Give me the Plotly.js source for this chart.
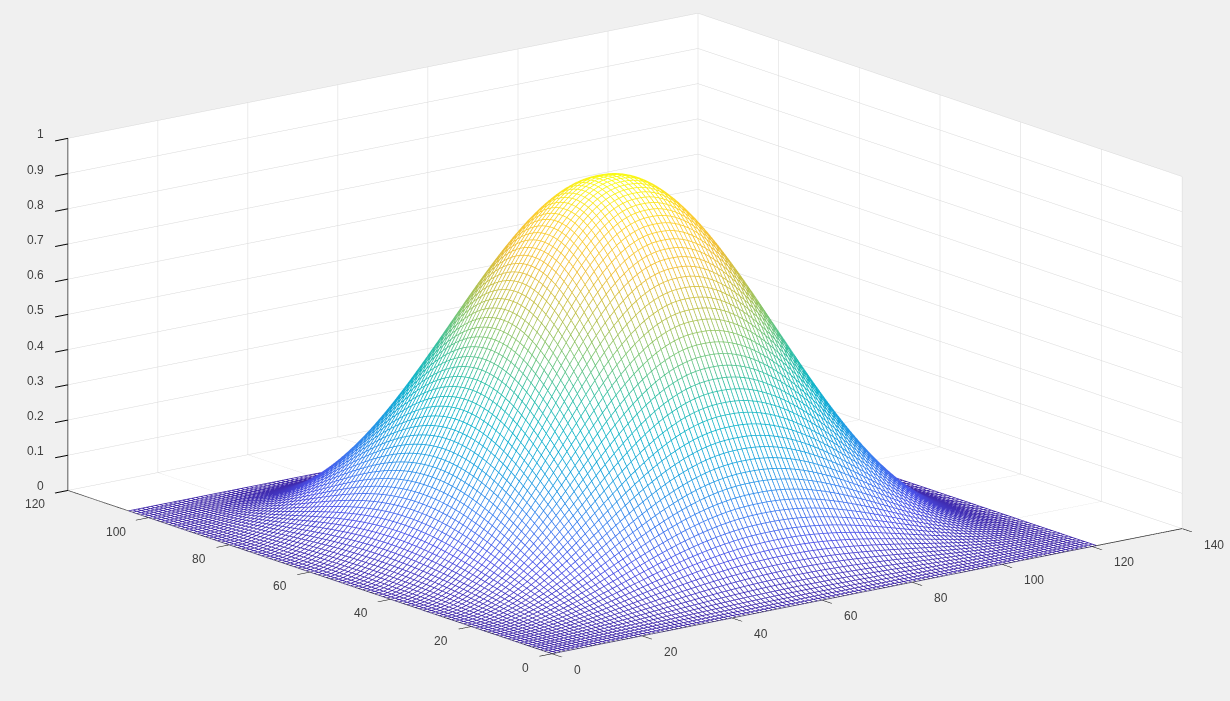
<!DOCTYPE html>
<html><head><meta charset="utf-8">
<script src="https://cdn.plot.ly/plotly-3.0.1.min.js"></script>
<style>html,body{margin:0;padding:0;background:#f0f0f0}#c{width:1230px;height:701px}</style></head>
<body><div id="c"></div><script>
// Bell profile along x, from the edge to the crest (mirrored for the far half)
const profileXHalf=[0,.0007,.0027,.0062,.0109,.0170,.0245,.0332,.0432,.0545,.0670,.0807,.0955,.1114,.1284,.1464,.1654,.1853,.2061,.2277,.25,.2730,.2966,.3208,.3455,.3706,.3960,.4218,.4477,.4738,.5,.5262,.5523,.5782,.6040,.6294,.6545,.6792,.7034,.7270,.75,.7723,.7939,.8147,.8346,.8536,.8716,.8886,.9045,.9193,.9330,.9455,.9568,.9668,.9755,.9830,.9891,.9938,.9973,.9993,1];
// Bell profile along y, from the edge to the crest
const profileYHalf=[0,.0009,.0036,.0080,.0143,.0222,.0319,.0432,.0562,.0708,.0869,.1045,.1234,.1438,.1654,.1883,.2121,.2371,.2631,.2898,.3173,.3455,.3742,.4034,.4329,.4626,.4925,.5224,.5523,.5819,.6113,.6402,.6687,.6965,.7237,.75,.7755,.8000,.8234,.8455,.8665,.8861,.9045,.9214,.9367,.9505,.9627,.9732,.9820,.9891,.9944,.9980,.9998];
const xTicks=[0,20,40,60,80,100,120,140];
const yTicks=[0,20,40,60,80,100,120];
const zTicks=[0,.1,.2,.3,.4,.5,.6,.7,.8,.9,1];
const parula=[[0,'#3e26a8'],[.1,'#4a50e8'],[.2,'#3a80f0'],[.3,'#1a9fe0'],[.4,'#10b4cc'],[.5,'#2fbfa5'],[.6,'#7ac674'],[.7,'#c0c048'],[.8,'#f0bf38'],[.9,'#fdce2c'],[1,'#f9fb15']];

const px=profileXHalf.concat(profileXHalf.slice().reverse());
const py=profileYHalf.concat(profileYHalf.slice().reverse());
const xs=px.map((_,i)=>i), ys=py.map((_,j)=>j);
const Z=py.map(b=>px.map(a=>a*b));

const lx=[],ly=[],lz=[];
ys.forEach((y,j)=>{xs.forEach((x,i)=>{lx.push(x);ly.push(y);lz.push(Z[j][i]);});lx.push(null);ly.push(null);lz.push(null);});
xs.forEach((x,i)=>{ys.forEach((y,j)=>{lx.push(x);ly.push(y);lz.push(Z[j][i]);});lx.push(null);ly.push(null);lz.push(null);});

const face={type:'surface',x:xs,y:ys,z:Z.map(r=>r.map(v=>v-0.004)),colorscale:[[0,'#fff'],[1,'#fff']],showscale:false,hoverinfo:'skip',
  lighting:{ambient:1,diffuse:0,specular:0,roughness:1,fresnel:0}};
const mesh={type:'scatter3d',mode:'lines',x:lx,y:ly,z:lz,connectgaps:false,hoverinfo:'skip',
  line:{width:1.6,color:lz.map(v=>v===null?0:v),colorscale:parula,cmin:0,cmax:1,showscale:false}};

function axis(range,ticks){return {range:range,tickmode:'array',tickvals:ticks,title:{text:''},showticklabels:false,
  showbackground:true,backgroundcolor:'#ffffff',gridcolor:'#d8d8d8',gridwidth:1,zeroline:false,showline:true,linecolor:'#262626',linewidth:1.5,
  ticks:'outside',ticklen:16,tickcolor:'#000000',tickwidth:2,showspikes:false};}
const labelFont={family:'Liberation Sans, Arial, sans-serif',size:12,color:'#404040'};
function label(x,y,z,text,anchor,dx,dy){return {x:x,y:y,z:z,text:text,showarrow:false,xanchor:anchor,yanchor:'middle',xshift:dx,yshift:dy,font:labelFont};}
const labels=[].concat(
  xTicks.map(t=>label(t,0,0,String(t),'left',20,-16)),
  yTicks.map(t=>label(0,t,0,String(t),'right',-21,-14)),
  zTicks.map(t=>label(0,120,t,String(t),'right',-22,4)));

const d=4, dc={x:-.0303,y:.00741,z:-.0469};
const layout={width:1230,height:701,margin:{l:0,r:0,t:0,b:0},paper_bgcolor:'#f0f0f0',showlegend:false,
  scene:{domain:{x:[0,1],y:[0,1]},bgcolor:'#f0f0f0',xaxis:axis([0,140],xTicks),yaxis:axis([0,120],yTicks),zaxis:axis([0,1],zTicks),
    annotations:labels,aspectmode:'manual',aspectratio:{x:2.266,y:2.269,z:1.040},
    camera:{projection:{type:'orthographic'},up:{x:0,y:0,z:1},center:dc,eye:{x:-.588*d+dc.x,y:-.7663*d+dc.y,z:.2588*d+dc.z}}}};
Plotly.newPlot('c',[face,mesh],layout,{displayModeBar:false});
</script></body></html>
